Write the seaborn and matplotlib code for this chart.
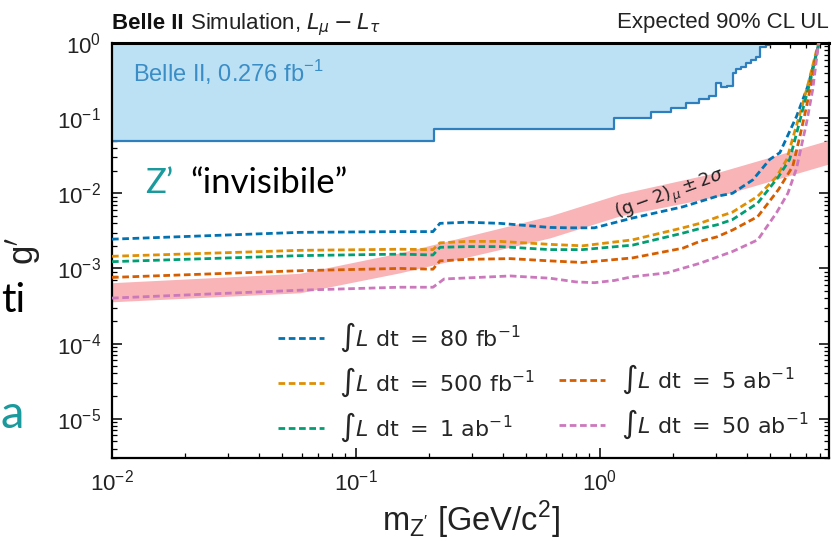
import matplotlib
matplotlib.use("Agg")
import matplotlib.pyplot as plt
import numpy as np
import pandas as pd
import seaborn as sns
from matplotlib.lines import Line2D
from matplotlib.offsetbox import TextArea, HPacker, AnchoredOffsetbox

# ---- projected 90% CL upper limits on g' (mass in GeV/c^2) ----
mass_80fb = [0.01, 0.0589, 0.151, 0.207, 0.221, 0.285, 0.389, 0.624, 0.75, 0.95, 1.15,
             1.36, 2.19, 3.02, 3.5, 4.24, 4.97, 5.47, 6.4, 7.15, 7.85, 8.0]
g_80fb = [2.45e-3, 3.02e-3, 3.09e-3, 3.09e-3, 3.98e-3, 4.12e-3, 3.98e-3, 3.51e-3, 3.47e-3, 3.47e-3, 4.07e-3,
          4.68e-3, 6.61e-3, 9.12e-3, 1.0e-2, 1.51e-2, 2.82e-2, 3.47e-2, 0.105, 0.275, 0.89, 1.2]

mass_500fb = [0.01, 0.0589, 0.151, 0.207, 0.221, 0.285, 0.389, 0.624, 0.85, 1.36,
              2.19, 2.57, 3.02, 3.5, 4.44, 5.3, 5.84, 6.2, 6.7, 7.2, 7.8, 8.0]
g_500fb = [1.45e-3, 1.74e-3, 1.80e-3, 1.78e-3, 2.19e-3, 2.29e-3, 2.29e-3, 2.09e-3, 2.0e-3, 2.40e-3,
           3.47e-3, 3.98e-3, 4.79e-3, 5.62e-3, 9.12e-3, 1.66e-2, 2.82e-2, 5.62e-2, 0.132, 0.316, 0.89, 1.2]

mass_1ab = [0.01, 0.0589, 0.151, 0.207, 0.221, 0.285, 0.389, 0.624, 0.85, 1.36,
            2.19, 2.57, 3.02, 3.5, 4.44, 5.4, 6.0, 6.35, 6.8, 7.3, 7.85, 8.0]
g_1ab = [1.23e-3, 1.48e-3, 1.55e-3, 1.51e-3, 1.91e-3, 1.95e-3, 1.95e-3, 1.78e-3, 1.78e-3, 2.04e-3,
         2.95e-3, 3.39e-3, 3.80e-3, 4.47e-3, 7.41e-3, 1.66e-2, 2.82e-2, 5.62e-2, 0.132, 0.316, 0.89, 1.2]

mass_5ab = [0.01, 0.0589, 0.151, 0.207, 0.221, 0.285, 0.43, 0.624, 0.85, 1.36,
            2.19, 2.57, 3.02, 3.5, 4.44, 5.4, 6.18, 6.6, 7.0, 7.4, 7.85, 8.0]
g_5ab = [7.59e-4, 9.33e-4, 1.0e-3, 9.77e-4, 1.26e-3, 1.32e-3, 1.35e-3, 1.26e-3, 1.20e-3, 1.38e-3,
         1.86e-3, 2.29e-3, 2.63e-3, 3.24e-3, 4.90e-3, 1.12e-2, 2.29e-2, 5.62e-2, 0.132, 0.316, 0.89, 1.2]

mass_50ab = [0.01, 0.0589, 0.151, 0.207, 0.23, 0.43, 0.624, 0.8, 0.95, 1.15, 1.36, 1.88,
             2.57, 3.5, 4.44, 5.3, 5.9, 6.4, 7.04, 7.46, 7.85, 8.0]
g_50ab = [4.03e-4, 5.13e-4, 5.62e-4, 5.62e-4, 7.24e-4, 7.94e-4, 7.41e-4, 6.61e-4, 6.46e-4, 6.92e-4, 7.76e-4, 8.71e-4,
          1.17e-3, 1.68e-3, 2.40e-3, 5.50e-3, 1.0e-2, 2.14e-2, 8.71e-2, 0.24, 0.89, 1.2]

series_labels = [r"$\int L\ \mathrm{dt}\ =\ 80\ \mathrm{fb}^{-1}$",
                 r"$\int L\ \mathrm{dt}\ =\ 500\ \mathrm{fb}^{-1}$",
                 r"$\int L\ \mathrm{dt}\ =\ 1\ \mathrm{ab}^{-1}$",
                 r"$\int L\ \mathrm{dt}\ =\ 5\ \mathrm{ab}^{-1}$",
                 r"$\int L\ \mathrm{dt}\ =\ 50\ \mathrm{ab}^{-1}$"]

# ---- existing Belle II limit (0.276 fb^-1), step edges ----
belle_mass = [0.01, 0.209, 1.145, 1.62, 1.96, 2.26, 2.54, 2.79, 3.0, 3.15, 3.31, 3.5,
              3.63, 3.8, 3.99, 4.17, 4.38, 4.53, 4.82, 5.0]
belle_g = [0.0498, 0.0711, 0.100, 0.120, 0.138, 0.159, 0.178, 0.197, 0.291, 0.258, 0.268, 0.395,
           0.447, 0.484, 0.537, 0.594, 0.657, 0.89, 0.95, 2.0]

# ---- (g-2)_mu +/- 2 sigma band ----
band_mass = [0.01, 0.0589, 0.151, 0.624, 1.21, 3.1, 9.0]
band_upper = [6.46e-4, 8.61e-4, 1.61e-3, 5.01e-3, 9.82e-3, 1.93e-2, 5.28e-2]
band_lower = [3.60e-4, 4.74e-4, 8.73e-4, 2.55e-3, 5.01e-3, 9.23e-3, 2.54e-2]

x_ticks = [1e-2, 1e-1, 1e0]
y_ticks = [1e-5, 1e-4, 1e-3, 1e-2, 1e-1, 1e0]

sns.set_theme(style="ticks")
plt.rcParams["font.family"] = ["Liberation Sans", "DejaVu Sans"]
plt.rcParams["mathtext.fontset"] = "dejavusans"

palette = sns.color_palette("colorblind")
curve_colors = [palette[0], palette[1], palette[2], palette[3], palette[4]]
dash = (0, (2.4, 1.3))

W, H = 833, 541
fig = plt.figure(figsize=(W / 100, H / 100), dpi=100)
ax = fig.add_axes([112 / W, 1 - 458 / H, (829 - 112) / W, (458 - 43) / H])

# existing limit
ax.fill_between(belle_mass, belle_g, 10, step="post", color="#bde1f4", lw=0, zorder=1)
ax.step(belle_mass, belle_g, where="post", color="#2f7fbf", lw=1.6, zorder=2)

# g-2 band
ax.fill_between(band_mass, band_lower, band_upper, color="#f9b4b8", lw=0, zorder=1.5)

curves = [(mass_80fb, g_80fb), (mass_500fb, g_500fb), (mass_1ab, g_1ab),
          (mass_5ab, g_5ab), (mass_50ab, g_50ab)]
for (m, g), col in zip(curves, curve_colors):
    df = pd.DataFrame({"mass": m, "g": g})
    sns.lineplot(data=df, x="mass", y="g", ax=ax, color=col, lw=2.0,
                 linestyle=dash, sort=False, estimator=None,
                 legend=False, zorder=3)

ax.set_xscale("log")
ax.set_yscale("log")
ax.set_xlim(1e-2, 8.7)
ax.set_ylim(3e-6, 1.0)
ax.set_xticks(x_ticks)
ax.set_yticks(y_ticks)

for s in ax.spines.values():
    s.set_linewidth(1.6)
    s.set_color("black")
ax.spines["top"].set_linewidth(2.2)
ax.tick_params(which="both", direction="in", top=True, right=True, colors="black",
               labelsize=16, labelcolor="#222222")
ax.tick_params(which="major", length=7, width=1.1, pad=8)
ax.tick_params(which="minor", length=3.5, width=0.9)

ax.set_xlabel(r"m$_{\mathdefault{Z'}}$ [GeV/c$^{\mathdefault{2}}$]", fontsize=23.5,
              color="#222222", labelpad=3)
ax.set_ylabel(r"g$'$", fontsize=25, color="#222222", labelpad=10)

# titles above the frame
ta1 = TextArea("Belle II", textprops=dict(fontsize=16, fontweight="bold", color="#111111"))
ta2 = TextArea(r" Simulation, $L_{\mu} - L_{\tau}$",
               textprops=dict(fontsize=16, color="#222222"))
title_box = HPacker(children=[ta1, ta2], align="baseline", pad=0, sep=0)
ax.add_artist(AnchoredOffsetbox(loc="lower left", child=title_box, pad=0, borderpad=0,
                                frameon=False, bbox_to_anchor=(0.0, 1.012),
                                bbox_transform=ax.transAxes))
ax.text(1.0, 1.035, "Expected 90% CL UL", transform=ax.transAxes, fontsize=16,
        ha="right", va="baseline", color="#222222")

ax.text(0.0122, 0.41, r"Belle II, 0.276 fb$^{\mathdefault{-1}}$", fontsize=17,
        color="#3a8dc5", ha="left", va="center", zorder=4)

ax.text(1.94, 9.5e-3, r"$(\mathrm{g}-2)_{\mu}\pm2\sigma$", fontsize=13,
        rotation=20, ha="center", va="center", color="#222222", zorder=4,
        rotation_mode="anchor")

# legend: two columns, second column starting on the second row
handles = [Line2D([], [], color=c, lw=2.0, linestyle=dash) for c in curve_colors]
blank = Line2D([], [], alpha=0)
leg_handles = [handles[0], handles[1], handles[2], blank, handles[3], handles[4]]
leg_labels = [series_labels[0], series_labels[1], series_labels[2], "",
              series_labels[3], series_labels[4]]
ax.legend(leg_handles, leg_labels, ncol=2, frameon=False, fontsize=16,
          loc="upper left", bbox_to_anchor=(278 / W, 1 - 321 / H),
          bbox_transform=fig.transFigure, borderpad=0, borderaxespad=0,
          handlelength=2.05, handletextpad=0.7, columnspacing=1.1, labelspacing=0.52)

# slide overlay text
fig.text(145 / W, 1 - 193 / H, "Z’", fontsize=25, family="Lato", color="#1a9a9c",
         ha="left", va="baseline")
fig.text(190 / W, 1 - 193 / H, "“invisibile”", fontsize=25, family="Lato", color="black",
         ha="left", va="baseline")
fig.text(1 / W, 1 - 312 / H, "ti", fontsize=29, family="Lato", color="black",
         ha="left", va="baseline")
fig.text(1 / W, 1 - 428 / H, "a", fontsize=34, family="Lato", color="#1a9a9c",
         ha="left", va="baseline")

fig.savefig("out.png", dpi=100, facecolor="white")
